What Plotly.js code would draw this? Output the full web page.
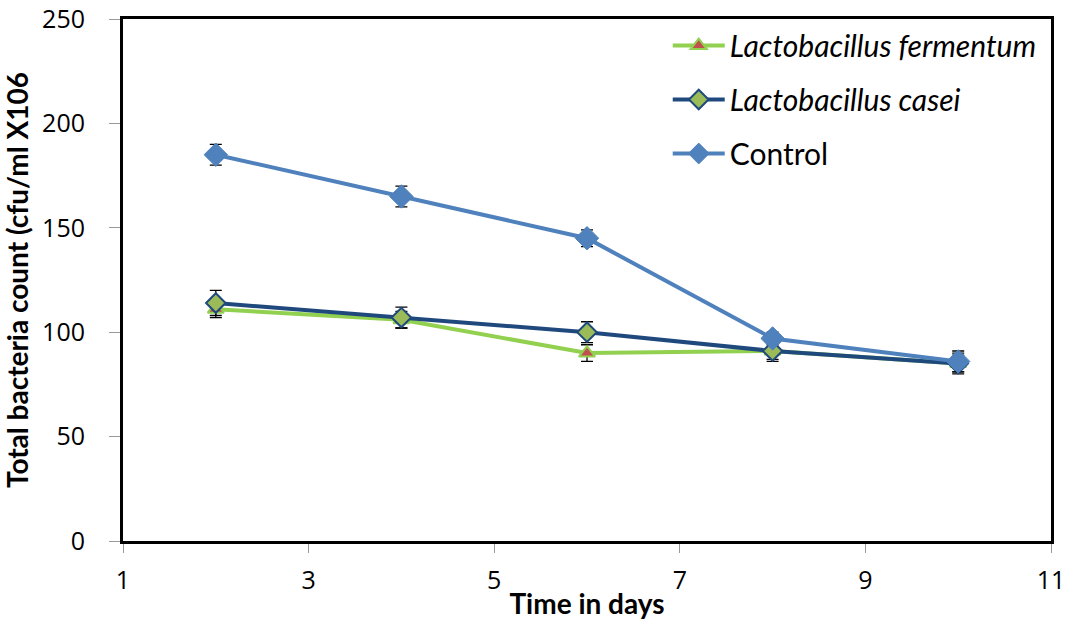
<!DOCTYPE html>
<html>
<head>
<meta charset="utf-8">
<script src="https://cdn.plot.ly/plotly-3.0.1.min.js"></script>
<style>html,body{margin:0;padding:0;background:#fff}#chart{width:1073px;height:623px}</style>
</head>
<body>
<div id="chart"></div>
<script>
const days = [2, 4, 6, 8, 10];
const fermentum = [111, 106, 90, 91, 85];
const fermentumErr = [4, 4, 4, 4, 4];
const casei = [114, 107, 100, 91, 85];
const caseiErr = [6, 5, 5, 5, 5];
const control = [185, 165, 145, 97, 86];
const controlErr = [5, 5, 4, 3, 5];
const seriesNames = ['<i>Lactobacillus fermentum</i>', '<i>Lactobacillus casei</i>', 'Control'];
const xTicks = [1, 3, 5, 7, 9, 11];
const yTicks = [0, 50, 100, 150, 200, 250];

const errStyle = (arr) => ({type: 'data', array: arr, visible: true, color: '#000', thickness: 1.3, width: 6});

const traces = [
  {x: days, y: fermentum, name: seriesNames[0], mode: 'lines+markers', legendgroup: 'a',
   line: {color: '#92D050', width: 4},
   marker: {symbol: 'triangle-up', size: 14, color: '#C0504D', line: {color: '#92D050', width: 2}},
   error_y: errStyle(fermentumErr)},
  {x: days, y: casei, name: seriesNames[1], mode: 'lines+markers', legendgroup: 'b',
   line: {color: '#1F497D', width: 4},
   marker: {symbol: 'diamond', size: 15, color: '#9BBB59', line: {color: '#1F497D', width: 2}},
   error_y: errStyle(caseiErr)},
  {x: days, y: control, name: seriesNames[2], mode: 'lines+markers', legendgroup: 'c',
   line: {color: '#4F81BD', width: 4},
   marker: {symbol: 'diamond', size: 18, color: '#4F81BD', line: {color: '#4F81BD', width: 1}},
   error_y: errStyle(controlErr)}
];

const layout = {
  width: 1073, height: 623,
  margin: {l: 123, r: 22, t: 19, b: 82},
  paper_bgcolor: '#fff', plot_bgcolor: '#fff',
  font: {family: 'Lato, "Open Sans", sans-serif', color: '#000'},
  showlegend: true,
  legend: {x: 0.587, y: 0.999, xanchor: 'left', yanchor: 'top', bgcolor: 'rgba(0,0,0,0)',
           font: {size: 30, family: 'Lato, sans-serif', color: '#000'}, tracegroupgap: 12, traceorder: 'grouped', itemwidth: 52},
  xaxis: {
    range: [1, 11], tickvals: xTicks, ticktext: xTicks.map(String),
    showgrid: false, zeroline: false,
    showline: true, linecolor: '#000', linewidth: 3, mirror: true,
    ticks: 'outside', ticklen: 9, tickcolor: '#999', tickwidth: 1,
    ticklabelstandoff: 6, ticklabeloverflow: 'allow',
    tickfont: {size: 25, family: '"Open Sans", sans-serif'},
    title: {text: '<b>Time in days</b>', font: {size: 28, family: 'Lato, sans-serif'}, standoff: 0}
  },
  yaxis: {
    range: [0, 250], tickvals: yTicks, ticktext: yTicks.map(String),
    showgrid: false, zeroline: false,
    showline: true, linecolor: '#000', linewidth: 3, mirror: true,
    ticks: 'outside', ticklen: 11, tickcolor: '#999', tickwidth: 1,
    ticklabelstandoff: 19, ticklabeloverflow: 'allow',
    tickfont: {size: 25, family: '"Open Sans", sans-serif'},
    title: {text: '<b>Total bacteria count (cfu/ml X106</b>', font: {size: 28, family: 'Lato, sans-serif'}, standoff: 14}
  }
};

Plotly.newPlot('chart', traces, layout, {displayModeBar: false, staticPlot: true});
</script>
</body>
</html>
